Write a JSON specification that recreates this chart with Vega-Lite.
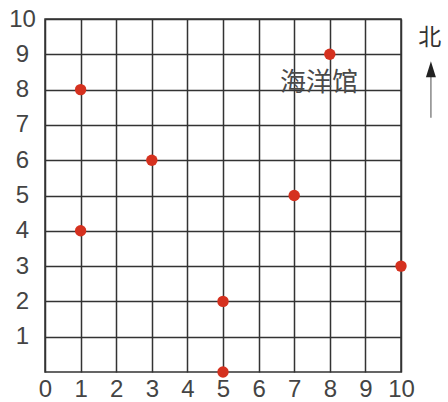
{
  "$schema": "https://vega.github.io/schema/vega-lite/v6.json",
  "width": 356,
  "height": 353,
  "autosize": {"type": "none"},
  "padding": {"left": 45, "top": 19, "right": 47, "bottom": 30},
  "background": "white",
  "config": {
    "view": {"stroke": "#333333", "strokeWidth": 1.5}
  },
  "datasets": {
    "pts": [
      {"x": 1, "y": 8}, {"x": 1, "y": 4}, {"x": 3, "y": 6}, {"x": 5, "y": 2},
      {"x": 5, "y": 0}, {"x": 7, "y": 5}, {"x": 8, "y": 9}, {"x": 10, "y": 3}
    ],
    "labels": [{"x": 7.7, "y": 8.19, "t": "海洋馆"}],
    "north": [{"x": 10.81, "y": 9.46, "t": "北"}],
    "arrowLine": [{"x": 10.84, "y": 7.2}, {"x": 10.84, "y": 8.4}],
    "arrowHead": [{"x": 10.84, "y": 8.58}]
  },
  "encoding": {
    "x": {"field": "x", "type": "quantitative", "scale": {"domain": [0, 10], "nice": false},
          "axis": {"values": [0,1,2,3,4,5,6,7,8,9,10], "title": null, "grid": true, "gridColor": "#333333", "gridWidth": 1.5, "gridOpacity": 1,
                   "domain": false, "ticks": false, "tickSize": 0, "labelFont": "Liberation Sans", "labelFontSize": 24, "labelColor": "#444444",
                   "labelOverlap": false, "labelFlush": false, "labelPadding": 5, "labelBaseline": "top", "labelAlign": "center"}},
    "y": {"field": "y", "type": "quantitative", "scale": {"domain": [0, 10], "nice": false},
          "axis": {"values": [1,2,3,4,5,6,7,8,9,10], "title": null, "grid": true, "gridColor": "#333333", "gridWidth": 1.5, "gridOpacity": 1,
                   "domain": false, "ticks": false, "tickSize": 0, "labelFont": "Liberation Sans", "labelFontSize": 24, "labelColor": "#444444",
                   "labelOverlap": false, "labelFlush": false, "labelPadding": 23, "labelAlign": "center", "labelBaseline": "middle"}}
  },
  "layer": [
    {
      "data": {"name": "pts"},
      "mark": {"type": "point", "filled": true, "color": "#d5311f", "opacity": 1, "size": 130, "clip": false}
    },
    {
      "data": {"name": "labels"},
      "mark": {"type": "text", "font": "Noto Sans CJK SC", "fontSize": 26, "color": "#4a4a4a", "clip": false},
      "encoding": {"text": {"field": "t"}}
    },
    {
      "data": {"name": "north"},
      "mark": {"type": "text", "font": "Noto Sans CJK SC", "fontSize": 23, "color": "#333333", "clip": false},
      "encoding": {"text": {"field": "t"}}
    },
    {
      "data": {"name": "arrowLine"},
      "mark": {"type": "line", "color": "#888888", "strokeWidth": 1.5, "clip": false},
      "encoding": {}
    },
    {
      "data": {"name": "arrowHead"},
      "mark": {"type": "point", "shape": "M0,-1L0.625,1L-0.625,1Z", "filled": true, "color": "#222222", "opacity": 1, "size": 256, "clip": false}
    }
  ]
}
